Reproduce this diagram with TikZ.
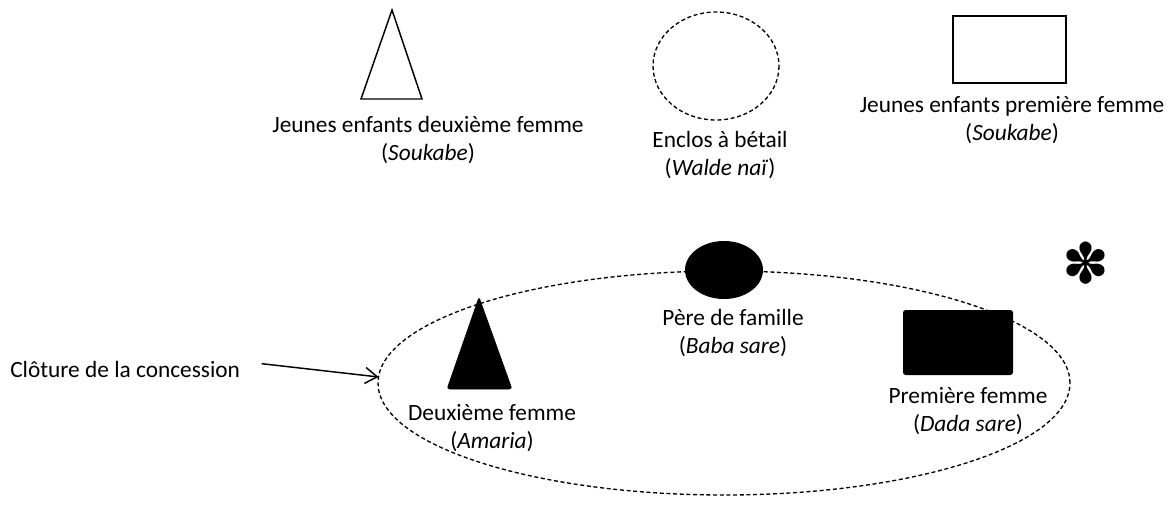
\documentclass[tikz,border=0pt]{standalone}
\usepackage{fontspec}
\setmainfont{Carlito}
\newfontfamily\symfont{DejaVu Sans}
\usetikzlibrary{arrows.meta,shapes.geometric}

\tikzset{
  legende/.style={align=center,inner sep=0pt,font=\fontsize{17.5}{21.5}\selectfont},
  case/.style={line width=1.1pt},
  cloture/.style={line width=1pt,dash pattern=on 3pt off 2pt},
}

\begin{document}
\begin{tikzpicture}[x=0.75pt,y=-0.75pt]
  \useasboundingbox (0,0) rectangle (1174,522);
  % legende du haut
  \draw[case] (392,10) -- (422,99) -- (361,99) -- cycle;
  \node[legende] (enfantsdeux) at (428,140) {Jeunes enfants deuxième femme\\(\textit{Soukabe})};
  \draw[cloture] (716,66) ellipse [x radius=63,y radius=54];
  \node[legende] (enclos) at (720,155) {Enclos à bétail\\(\textit{Walde naï})};
  \draw[case] (953,16) rectangle (1066,83);
  \node[legende] (enfantsun) at (1012,120) {Jeunes enfants première femme\\(\textit{Soukabe})};
  % la concession
  \node[cloture,draw,ellipse,minimum width=519pt,minimum height=168pt,inner sep=0pt,outer sep=0pt]
    (concession) at (724,383) {};
  \draw[fill=black,rounded corners=2pt] (479,297) -- (512,389) -- (447,389) -- cycle;
  \node[legende] (deuxieme) at (492,428) {Deuxième femme\\(\textit{Amaria})};
  \fill (724,270) ellipse [x radius=39,y radius=29];
  \node[legende] (pere) at (733,333) {Père de famille\\(\textit{Baba sare})};
  \fill[rounded corners=2pt] (903,310) rectangle (1013,375);
  \node[legende] (premiere) at (968,411) {Première femme\\(\textit{Dada sare})};
  \node[font=\symfont\fontsize{42}{42}\selectfont,inner sep=0pt] (etoile) at (1086,263) {✽};
  % fleche
  \node[legende,anchor=west] (clotlabel) at (10,369) {Clôture de la concession};
  \draw[line width=1.1pt,-{Straight Barb[length=9pt,width=12pt]}]
    ([xshift=16pt,yshift=4pt]clotlabel.east) -- (concession.179);
\end{tikzpicture}
\end{document}
